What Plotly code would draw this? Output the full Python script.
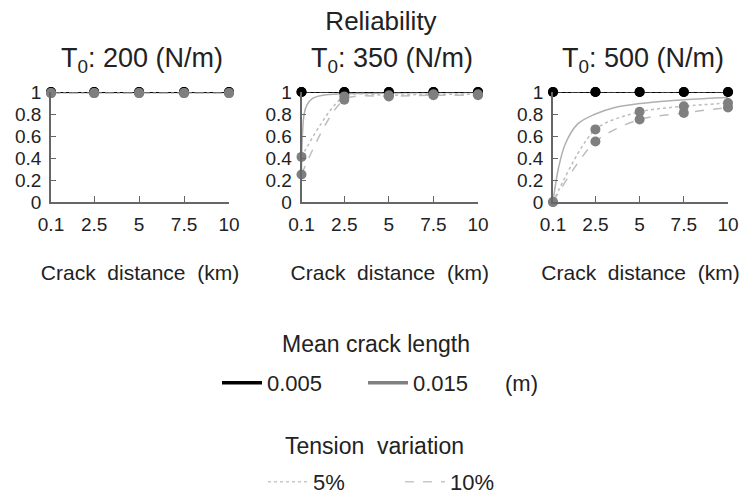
import plotly.graph_objects as go

# ---------------- data ----------------
crack_distance = [0.1, 2.5, 5, 7.5, 10]
tick_labels = ["0.1", "2.5", "5", "7.5", "10"]
tensions = ["200", "350", "500"]

# simulated points (black = mean crack length 0.005 m, grey = 0.015 m)
black_5 = {"200": [1, 1, 1, 1, 1], "350": [1, 1, 1, 1, 1], "500": [1, 1, 1, 1, 1]}
black_10 = {"200": [1, 1, 1, 1, 1], "350": [1, 1, 1, 1, 1], "500": [1, 1, 1, 1, 1]}
grey_5 = {"200": [0.99, 0.99, 0.99, 0.99, 0.99],
          "350": [0.41, 0.96, 0.97, 0.98, 0.98],
          "500": [0.0, 0.66, 0.82, 0.87, 0.90]}
grey_10 = {"200": [0.99, 0.99, 0.99, 0.99, 0.99],
           "350": [0.25, 0.93, 0.96, 0.97, 0.97],
           "500": [0.0, 0.55, 0.75, 0.81, 0.86]}

# analytical curves
black_curve_x = {"200": [0.1, 10], "350": [0.1, 10], "500": [0.1, 10]}
black_curve_y = {"200": [1, 1], "350": [1, 1], "500": [1, 1]}
grey_curve_x = {"200": [0.1, 10],
                "350": [0.1, 0.15, 0.25, 0.4, 0.7, 1.0, 1.5, 2.5, 5, 7.5, 10],
                "500": [0.1, 0.4, 0.8, 1.5, 2.5, 3.5, 5, 7.5, 10]}
grey_curve_y = {"200": [0.995, 0.995],
                "350": [0.3, 0.6, 0.8, 0.88, 0.94, 0.96, 0.975, 0.985, 0.99, 0.995, 0.995],
                "500": [0.0, 0.3, 0.53, 0.71, 0.80, 0.855, 0.895, 0.93, 0.95]}

# ---------------- style ----------------
FONT = "Liberation Sans, Arial, sans-serif"
TXT = "#222222"
AX = "#666666"
OFF = 0                     # page body margin is removed in the page script below
W, H = 741, 496


def px_x(p):
    return (p - OFF) / W


def px_y(p):
    return 1 - (p - OFF) / H


x_dom_px = [(51, 229), (301.5, 478), (553, 728)]
y_top_px, y_bot_px = 92, 202

fig = go.Figure()

for i, t in enumerate(tensions):
    n = "" if i == 0 else str(i + 1)
    xa, ya = "x" + n, "y" + n
    common = dict(xaxis=xa, yaxis=ya, showlegend=False, cliponaxis=False, hoverinfo="skip")
    # analytical curves
    fig.add_trace(go.Scatter(x=grey_curve_x[t], y=grey_curve_y[t], mode="lines",
                             line=dict(color="#b0b0b0", width=1.5, shape="spline"), **common))
    fig.add_trace(go.Scatter(x=black_curve_x[t], y=black_curve_y[t], mode="lines",
                             line=dict(color="#000000", width=2), **common))
    # lines through simulated points
    fig.add_trace(go.Scatter(x=crack_distance, y=grey_5[t], mode="lines",
                             line=dict(color="#bdbdbd", width=1.5, dash="dot", shape="spline", smoothing=0.8), **common))
    fig.add_trace(go.Scatter(x=crack_distance, y=grey_10[t], mode="lines",
                             line=dict(color="#bdbdbd", width=1.5, dash="dash", shape="spline", smoothing=0.8), **common))
    fig.add_trace(go.Scatter(x=crack_distance, y=black_5[t], mode="lines",
                             line=dict(color="#555555", width=1.2, dash="dot"), **common))
    fig.add_trace(go.Scatter(x=crack_distance, y=black_10[t], mode="lines",
                             line=dict(color="#555555", width=1.2, dash="dash"), **common))
    # markers
    fig.add_trace(go.Scatter(x=crack_distance, y=black_5[t], mode="markers",
                             marker=dict(color="#000000", size=10), **common))
    fig.add_trace(go.Scatter(x=crack_distance, y=black_10[t], mode="markers",
                             marker=dict(color="#000000", size=10), **common))
    fig.add_trace(go.Scatter(x=crack_distance, y=grey_5[t], mode="markers",
                             marker=dict(color="#7f7f7f", size=10), **common))
    fig.add_trace(go.Scatter(x=crack_distance, y=grey_10[t], mode="markers",
                             marker=dict(color="#7f7f7f", size=10), **common))

    x0, x1 = x_dom_px[i]
    fig.update_layout(**{
        ("xaxis" + n): dict(domain=[px_x(x0), px_x(x1)], range=[0.1, 10], anchor=ya,
                            automargin=False,
                            tickvals=crack_distance, ticktext=tick_labels,
                            showline=True, linecolor=AX, linewidth=1.5,
                            ticks="inside", ticklen=6, tickcolor=AX, tickwidth=1.2,
                            ticklabelstandoff=4,
                            showgrid=False, zeroline=False,
                            tickfont=dict(family=FONT, size=19, color=TXT),
                            title=dict(text="Crack\u00a0 distance\u00a0 (km)", standoff=32,
                                       font=dict(family=FONT, size=21, color=TXT))),
        ("yaxis" + n): dict(domain=[px_y(y_bot_px), px_y(y_top_px)], range=[0, 1], anchor=xa,
                            automargin=False,
                            tickvals=[0, 0.2, 0.4, 0.6, 0.8, 1],
                            ticktext=["0", "0.2", "0.4", "0.6", "0.8", "1"],
                            showline=True, linecolor=AX, linewidth=1.5,
                            ticks="inside", ticklen=5, tickcolor=AX, tickwidth=1.2,
                            ticklabelstandoff=4,
                            showgrid=False, zeroline=False,
                            tickfont=dict(family=FONT, size=19, color=TXT)),
    })
    fig.add_annotation(text="T<sub>0</sub>: " + t + " (N/m)", xref="paper", yref="paper",
                       x=px_x((x0 + x1) / 2 + 2), y=px_y(60), xanchor="center", yanchor="middle",
                       showarrow=False, font=dict(family=FONT, size=27, color=TXT))

# legend entries
fig.add_trace(go.Scatter(x=[None], y=[None], mode="lines", name="0.005",
                         line=dict(color="#000000", width=3.5), legend="legend"))
fig.add_trace(go.Scatter(x=[None], y=[None], mode="lines", name="0.015",
                         line=dict(color="#808080", width=3.5), legend="legend"))
fig.add_trace(go.Scatter(x=[None], y=[None], mode="lines", name="5%",
                         line=dict(color="#c8c8c8", width=1.5, dash="dot"), legend="legend2"))
fig.add_trace(go.Scatter(x=[None], y=[None], mode="lines", name="10%",
                         line=dict(color="#c8c8c8", width=1.5, dash="dash"), legend="legend2"))

fig.add_annotation(text="Mean crack length", xref="paper", yref="paper",
                   x=px_x(376), y=px_y(344), xanchor="center", yanchor="middle",
                   showarrow=False, font=dict(family=FONT, size=23, color=TXT))
fig.add_annotation(text="(m)", xref="paper", yref="paper",
                   x=px_x(521), y=px_y(383), xanchor="center", yanchor="middle",
                   showarrow=False, font=dict(family=FONT, size=22, color=TXT))
fig.add_annotation(text="Tension\u00a0 variation", xref="paper", yref="paper",
                   x=px_x(374), y=px_y(446), xanchor="center", yanchor="middle",
                   showarrow=False, font=dict(family=FONT, size=23, color=TXT))

fig.update_layout(
    width=W, height=H,
    margin=dict(l=0, r=0, t=0, b=0, autoexpand=False),
    paper_bgcolor="white", plot_bgcolor="white",
    title=dict(text="Reliability", x=px_x(381), xanchor="center", y=px_y(21), yanchor="middle",
               font=dict(family=FONT, size=26, color=TXT)),
    legend=dict(orientation="h", x=px_x(363), xanchor="center", y=px_y(383), yanchor="middle",
                font=dict(family=FONT, size=22, color=TXT), bgcolor="rgba(0,0,0,0)",
                itemwidth=40, entrywidth=91),
    legend2=dict(orientation="h", x=px_x(400), xanchor="center", y=px_y(482), yanchor="middle",
                 font=dict(family=FONT, size=22, color=TXT), bgcolor="rgba(0,0,0,0)",
                 itemwidth=40, entrywidth=82),
    hovermode=False,
)

fig.write_html("out.html",
               config={"displayModeBar": False},
               post_script="document.body.style.margin='0';"
                           "document.documentElement.style.overflow='hidden';"
                           "document.body.style.overflow='hidden';")
